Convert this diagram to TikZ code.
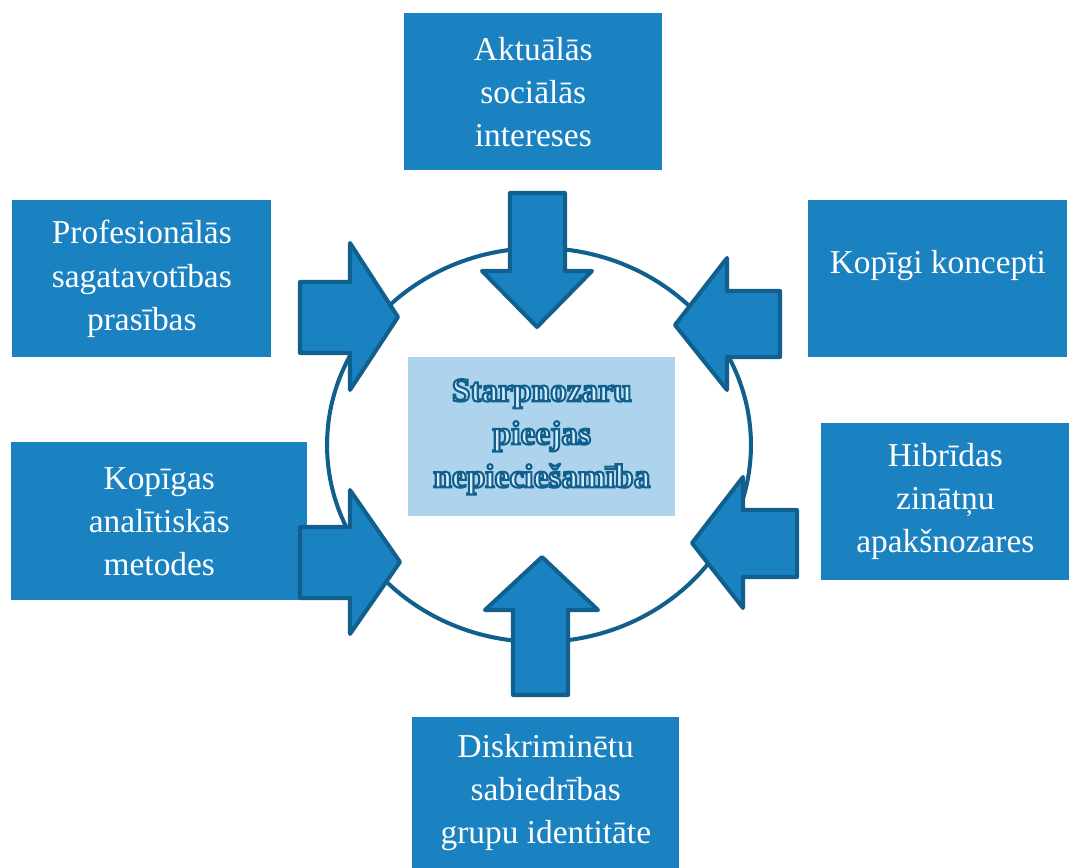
\documentclass[tikz,border=0pt]{standalone}
\usepackage{fontspec}
\setmainfont{Liberation Serif}
\definecolor{boxblue}{RGB}{27,130,194}
\definecolor{edgeblue}{RGB}{16,95,141}
\definecolor{paleblue}{RGB}{174,211,236}
\definecolor{glow}{RGB}{214,234,247}
\newcommand{\hollowtext}[1]{\special{pdf:literal direct 0.063 0.373 0.553 RG 1.2 w 2 Tr}#1\special{pdf:literal direct 0 Tr}}
\tikzset{
    topic/.style={rectangle, fill=boxblue, text=white, align=center, inner sep=0pt, anchor=north west, font=\fontsize{19}{24.5}\selectfont},
    core/.style={rectangle, fill=paleblue, text=glow, align=center, inner sep=0pt, anchor=north west, font=\bfseries\fontsize{19}{24.5}\selectfont},
    push/.style={draw=edgeblue, fill=boxblue, line width=2.3pt, line join=round},
    ring/.style={draw=edgeblue, line width=2.3pt}
}

\begin{document}
\begin{tikzpicture}
  [
    x = 0.02cm,
    y = -0.02cm,
  ]
  \useasboundingbox (0,0) rectangle (1069,868);
  \draw [ring] (539,445) ellipse [x radius=4.24cm, y radius=3.94cm];
  \node [core, minimum width=5.34cm, minimum height=3.18cm] (need) at (408,357)
    {\hollowtext{Starpnozaru\\pieejas\\nepieciešamība}};
  \node [topic, minimum width=5.16cm, minimum height=3.14cm] (social) at (404,13)
    {Aktuālās\\sociālās\\intereses};
  \node [topic, minimum width=5.18cm, minimum height=3.14cm] (prof) at (12,200)
    {Profesionālās\\sagatavotības\\prasības};
  \node [topic, minimum width=5.18cm, minimum height=3.14cm, text depth=19pt] (concepts) at (808,200)
    {Kopīgi koncepti};
  \node [topic, minimum width=5.92cm, minimum height=3.16cm] (methods) at (11,442)
    {Kopīgas\\analītiskās\\metodes};
  \node [topic, minimum width=4.96cm, minimum height=3.14cm] (hybrid) at (821,423)
    {Hibrīdas\\zinātņu\\apakšnozares};
  \node [topic, minimum width=5.34cm, minimum height=3.02cm] (groups) at (412,717)
    {Diskriminētu\\sabiedrības\\grupu identitāte};
  \draw [push] (510,193) -- (565,193) -- (565,271) -- (592,271) -- (537,327) -- (482,271) -- (510,271) -- cycle;
  \draw [push] (300,282) -- (350,282) -- (350,243) -- (398,317) -- (350,390) -- (350,353) -- (300,353) -- cycle;
  \draw [push] (300,527) -- (350,527) -- (350,490) -- (400,562) -- (350,634) -- (350,598) -- (300,598) -- cycle;
  \draw [push] (780,291) -- (727,291) -- (727,258) -- (675,325) -- (727,390) -- (727,357) -- (780,357) -- cycle;
  \draw [push] (797,510) -- (743,510) -- (743,477) -- (692,543) -- (743,608) -- (743,577) -- (797,577) -- cycle;
  \draw [push] (513,695) -- (513,610) -- (485,610) -- (542,557) -- (598,610) -- (568,610) -- (568,695) -- cycle;
\end{tikzpicture}
\end{document}
